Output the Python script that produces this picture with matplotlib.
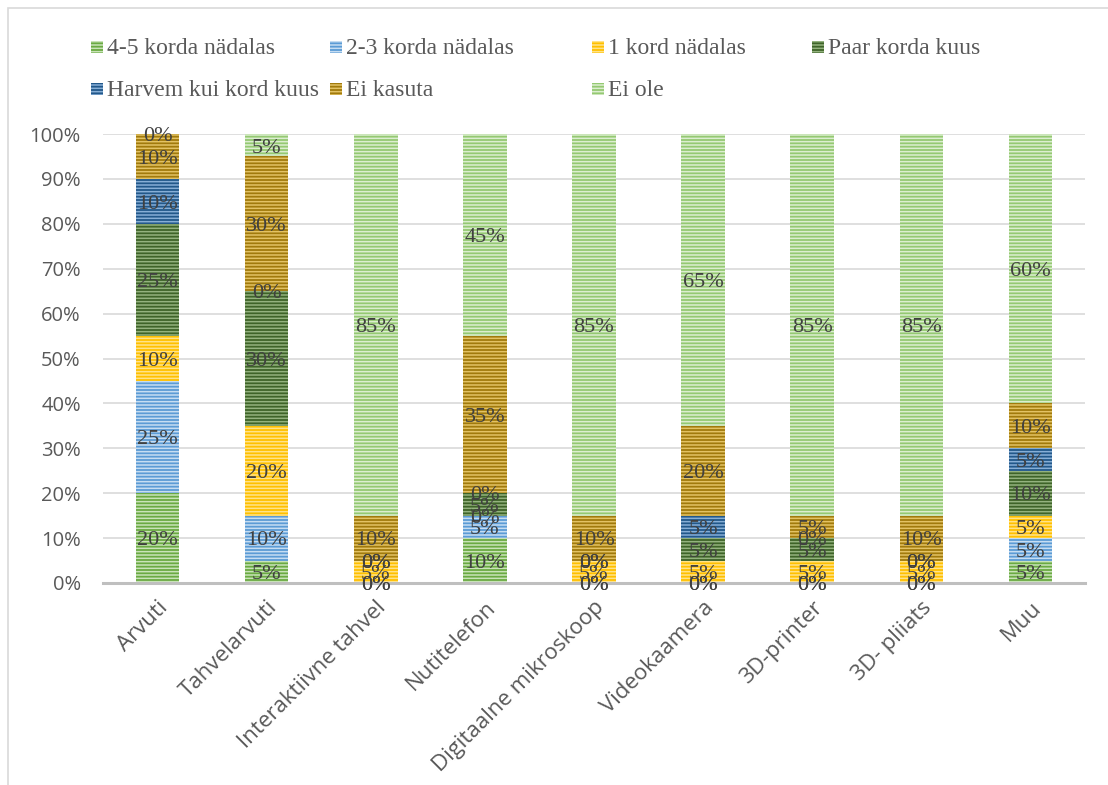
import matplotlib
matplotlib.use("Agg")
import matplotlib.pyplot as plt
from matplotlib.patches import Rectangle
import numpy as np

categories = ["Arvuti", "Tahvelarvuti", "Interaktiivne tahvel", "Nutitelefon",
              "Digitaalne mikroskoop", "Videokaamera", "3D-printer", "3D- pliiats", "Muu"]
series_names = ["4-5 korda nädalas", "2-3 korda nädalas", "1 kord nädalas",
                "Paar korda kuus", "Harvem kui kord kuus", "Ei kasuta", "Ei ole"]

v_4_5_korda = [20, 5, 0, 10, 0, 0, 0, 0, 5]
v_2_3_korda = [25, 10, 0, 5, 0, 0, 0, 0, 5]
v_1_kord = [10, 20, 5, 0, 5, 5, 5, 5, 5]
v_paar_korda_kuus = [25, 30, 0, 5, 0, 5, 5, 0, 10]
v_harvem = [10, 0, 0, 0, 0, 5, 0, 0, 5]
v_ei_kasuta = [10, 30, 10, 35, 10, 20, 5, 10, 10]
v_ei_ole = [0, 5, 85, 45, 85, 65, 85, 85, 60]

series_values = [v_4_5_korda, v_2_3_korda, v_1_kord, v_paar_korda_kuus,
                 v_harvem, v_ei_kasuta, v_ei_ole]

colors = ["#6AAA42", "#5B9BD5", "#FFC000", "#3E6428", "#22588A", "#A17A0C", "#94C972"]
stripe_colors = ["#C9E3B8", "#C6DDF2", "#FFE38A", "#93B27E", "#86AED6", "#E3C264", "#DCEED0"]

plt.rcParams["hatch.linewidth"] = 1.1

W, H = 1108, 785
fig = plt.figure(figsize=(W / 100, H / 100), dpi=100)
fig.patch.set_facecolor("white")
fig.add_artist(Rectangle((8 / W, -0.05), 1.2, 1 - 8 / H + 0.05,
                         transform=fig.transFigure, fill=False,
                         edgecolor="#D9D9D9", linewidth=1.2))

ax = fig.add_axes([103 / W, 1 - 583 / H, (1085 - 103) / W, (583 - 134) / H])

x = np.arange(len(categories))
bottom = np.zeros(len(categories))
label_font = dict(family="Liberation Serif", size=16, color="#404040")
for name, vals, col, sc in zip(series_names, series_values, colors, stripe_colors):
    vals = np.array(vals, dtype=float)
    ax.bar(x, vals, 0.4, bottom=bottom, color=col, edgecolor=sc,
           linewidth=0, hatch="-----", label=name, zorder=2)
    for xi, b, v in zip(x, bottom, vals):
        ax.annotate(f"{int(v)}%", (xi, b + v / 2), xytext=(0, -2),
                    textcoords="offset points", ha="center", va="center",
                    zorder=3, annotation_clip=False, **label_font)
    bottom += vals

ax.set_xlim(-0.5, len(categories) - 0.5)
ax.set_ylim(0, 100)
ax.set_yticks(np.arange(0, 101, 10))
ax.set_yticklabels([f"{t}%" for t in range(0, 101, 10)])
ax.yaxis.grid(True, color="#D9D9D9", linewidth=1.2, zorder=0)
ax.set_axisbelow(True)
for s in ["top", "right", "left"]:
    ax.spines[s].set_visible(False)
ax.spines["bottom"].set_color("#BFBFBF")
ax.spines["bottom"].set_linewidth(2.2)
ax.tick_params(axis="both", length=0, colors="#595959")
ax.tick_params(axis="y", pad=16, labelsize=14.5)
ax.set_xticks(x)
ax.set_xticklabels(categories, rotation=45, ha="right", rotation_mode="anchor",
                   family="Open Sans", fontsize=16, color="#595959")
for t in ax.get_yticklabels():
    t.set_family("Open Sans")
ax.tick_params(axis="x", pad=10)

# legend drawn as a grid of swatches and labels
leg_cols = [91, 330, 592, 812]
leg_rows = [47, 89]
for i, (name, col, sc) in enumerate(zip(series_names, colors, stripe_colors)):
    r, c = divmod(i, 4)
    px, py = leg_cols[c], leg_rows[r]
    fig.add_artist(Rectangle((px / W, 1 - (py + 6) / H), 12 / W, 12 / H,
                             transform=fig.transFigure, facecolor=col,
                             edgecolor=sc, linewidth=0, hatch="-----"))
    fig.text((px + 16) / W, 1 - (py + 2) / H, name, ha="left", va="center",
             family="Liberation Serif", fontsize=17, color="#595959")

fig.savefig("out.png", dpi=100)
